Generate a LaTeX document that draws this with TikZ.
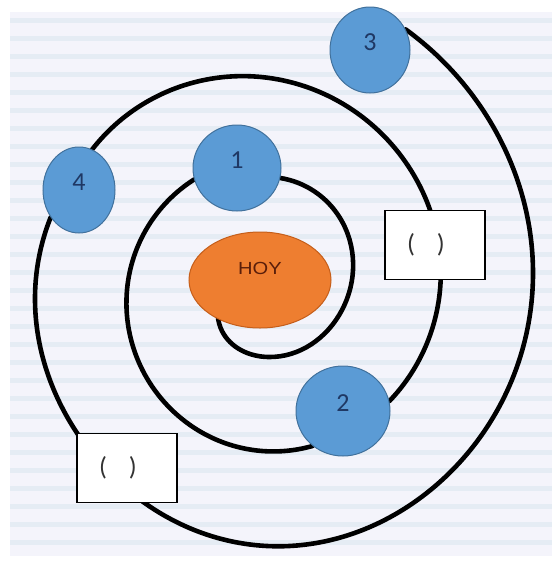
\documentclass[tikz,border=0pt]{standalone}
\usepackage{fontspec}
\setmainfont{Carlito}
\newfontfamily\hoyfont{Liberation Sans}
\usetikzlibrary{shapes.geometric,hobby}
\definecolor{paperbase}{HTML}{F4F4FB}
\definecolor{paperline}{HTML}{E5ECF4}
\definecolor{planetfill}{HTML}{5B9BD5}
\definecolor{planetedge}{HTML}{41719C}
\definecolor{digitcol}{HTML}{1F3864}
\definecolor{sunfill}{HTML}{EE7E30}
\definecolor{sunedge}{HTML}{C55E1A}
\definecolor{suntext}{HTML}{5A1E0A}
\pgfdeclarelayer{paper}
\pgfdeclarelayer{spiral}
\pgfsetlayers{paper,spiral,main}
\begin{document}
\begin{tikzpicture}[x=1pt,y=-1pt,
  planet/.style={ellipse, fill=planetfill, draw=planetedge, line width=1pt,
    inner sep=0pt, text=digitcol, font=\fontsize{26}{26}\selectfont, text depth=16pt},
  sun/.style={ellipse, fill=sunfill, draw=sunedge, line width=1pt, inner sep=0pt,
    text=suntext, font=\hoyfont\fontsize{17.5}{17.5}\selectfont, text depth=24pt,
    minimum width=142pt, minimum height=96pt},
  answerbox/.style={rectangle, fill=white, draw=black, line width=1.6pt,
    inner xsep=22pt, inner ysep=0pt, text width=56pt, minimum height=69pt,
    align=left, font=\fontsize{26}{26}\selectfont, text=black!80},
  orbit/.style={line width=4.6pt, black, line cap=round, line join=round, use Hobby shortcut}]
\useasboundingbox (0,0) rectangle (552,563);
\begin{pgfonlayer}{paper}
  \fill[white] (0,0) rectangle (552,563);
  \fill[paperbase] (10,12) rectangle (552,556);
  \foreach \yy in {18,36,...,552} {
    \fill[paperline] (10,\yy) rectangle (552,\yy+5);
  }
\end{pgfonlayer}

% planets, sun and boxes
\node[sun] (hoy) at (260,280) {\scalebox{1.15}[1]{HOY}};
\node[planet, minimum width=88pt, minimum height=86pt] (n1) at (237,168) {1};
\node[planet, minimum width=94pt, minimum height=90pt] (n2) at (343,411) {2};
\node[planet, minimum width=80pt, minimum height=86pt] (n3) at (370,50) {3};
\node[planet, minimum width=72pt, minimum height=86pt] (n4) at (79,190) {4};
\node[answerbox] (b1) at (435,245) {(\hspace{22pt})};
\node[answerbox] (b2) at (127,468) {(\hspace{22pt})};

\begin{pgfonlayer}{spiral}
  % innermost turn: from under HOY to planet 1
  \draw[orbit] (220,300) .. (222,331) .. (268,357) .. (342,310) .. (340,218) .. (n1.-13);
  % planet 1 to planet 2
  \draw[orbit] (n1.195) .. (127,290) .. (190,425) .. (262,451) .. (n2.229);
  % planet 2 through box 1 to planet 4
  \draw[orbit] (n2.12) .. (440,290) .. (412,172) .. (261,77) .. (150,100) .. (n4.72);
  % planet 4 through box 2 to planet 3
  \draw[orbit] (n4.224) .. (35,300) .. (77,433) .. (267,546) .. (460,462)
    .. (533,275) .. (470,92) .. (n3.30);
\end{pgfonlayer}
\end{tikzpicture}
\end{document}
